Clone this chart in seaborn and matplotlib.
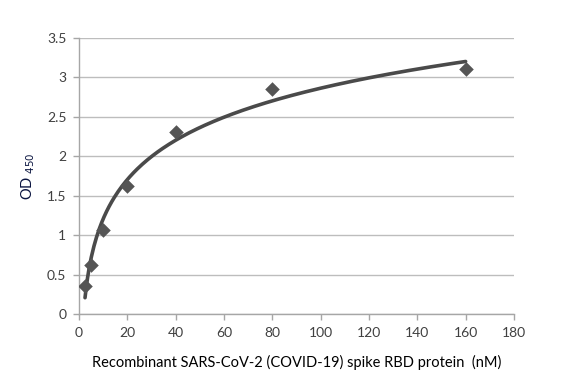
import numpy as np
import matplotlib
matplotlib.use("Agg")
import matplotlib.pyplot as plt
import seaborn as sns

# Concentration (nM) and measured OD450
conc_nm = [2.5, 5, 10, 20, 40, 80, 160]
od_450 = [0.35, 0.62, 1.07, 1.62, 2.31, 2.85, 3.11]

x_ticks = [0, 20, 40, 60, 80, 100, 120, 140, 160, 180]
y_ticks = [0, 0.5, 1, 1.5, 2, 2.5, 3, 3.5]
y_tick_labels = ["0", "0.5", "1", "1.5", "2", "2.5", "3", "3.5"]

sns.set_style("white")
plt.rcParams["font.family"] = ["Lato", "DejaVu Sans"]

# logarithmic trendline fitted to the points (like Excel's log trendline)
slope, intercept = np.polyfit(np.log(conc_nm), od_450, 1)
fit_x = np.linspace(min(conc_nm), max(conc_nm), 300)
fit_y = slope * np.log(fit_x) + intercept

fig = plt.figure(figsize=(5.82, 3.82), dpi=100)
ax = fig.add_axes([0.1357, 0.178, 0.7474, 0.7225])

sns.lineplot(x=fit_x, y=fit_y, ax=ax, color="#4a4a4a", linewidth=2.6, zorder=3)
sns.scatterplot(x=conc_nm, y=od_450, ax=ax, marker="D", s=55, color="#555555",
                edgecolor="#555555", linewidth=0, zorder=4)

ax.set_xlim(0, 180)
ax.set_ylim(0, 3.5)
ax.set_xticks(x_ticks)
ax.set_yticks(y_ticks)
ax.set_yticklabels(y_tick_labels)

ax.grid(axis="y", color="#bdbdbd", linewidth=1)
ax.set_axisbelow(True)
for side in ["top", "right"]:
    ax.spines[side].set_visible(False)
for side in ["left", "bottom"]:
    ax.spines[side].set_color("#a6a6a6")
    ax.spines[side].set_linewidth(1)

ax.tick_params(axis="both", which="both", direction="out", length=4, width=1,
               color="#a6a6a6", labelcolor="#404040", labelsize=10, pad=5,
               bottom=True, left=True)

ax.set_xlabel("Recombinant SARS-CoV-2 (COVID-19) spike RBD protein  (nM)",
              fontsize=10.5, color="#000000", labelpad=12)
ax.set_ylabel("OD $_{450}$", fontsize=10.5, color="#0a1440", labelpad=7)

fig.savefig("out.png", dpi=100)
